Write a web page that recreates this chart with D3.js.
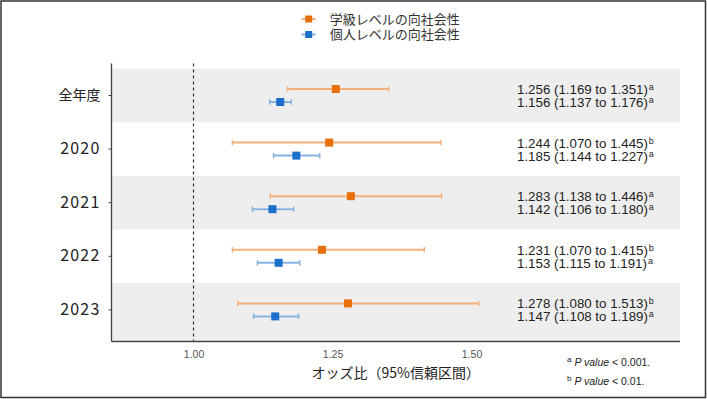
<!DOCTYPE html>
<html>
<head>
<meta charset="utf-8">
<script src="https://d3js.org/d3.v7.min.js"></script>
<style>
  body { margin: 0; background: #fff; }
  text { font-family: "Liberation Sans", Arial, sans-serif; }
  .jp { font-family: "Noto Sans CJK JP", sans-serif; }
</style>
</head>
<body>
<div id="chart"></div>
<script>

// data
var years = ["全年度", "2020", "2021", "2022", "2023"];
var classOR = [1.256, 1.244, 1.283, 1.231, 1.278];
var classLo = [1.169, 1.070, 1.138, 1.070, 1.080];
var classHi = [1.351, 1.445, 1.446, 1.415, 1.513];
var classSig = ["a", "b", "a", "b", "b"];
var indivOR = [1.156, 1.185, 1.142, 1.153, 1.147];
var indivLo = [1.137, 1.144, 1.106, 1.115, 1.108];
var indivHi = [1.176, 1.227, 1.180, 1.191, 1.189];
var indivSig = ["a", "a", "a", "a", "a"];
var xTicks = [1.00, 1.25, 1.50];
var seriesNames = ["学級レベルの向社会性", "個人レベルの向社会性"];

var W = 707, H = 399;
var orange = "#e8700a", orangeLine = "#f3b07c";
var blue = "#1c6fca", blueLine = "#88b3e3";

var svg = d3.select("#chart").append("svg")
    .attr("width", W).attr("height", H);

// outer frame
svg.append("rect")
    .attr("x", 1).attr("y", 1).attr("width", W - 2.5).attr("height", H - 2.5)
    .attr("fill", "#fff").attr("stroke", "#333").attr("stroke-width", 1.5);

// panel edges (not "top": that name is taken by window.top)
var pLeft = 111.5, pRight = 680, pTop = 63.5, pBottom = 341.5;

var x = d3.scaleLinear().domain([0.8525, 1.875]).range([pLeft, pRight]);
var y = d3.scaleBand().domain(years).range([68.7, 336.7]).padding(0);
var off = 6.5;

// alternating bands
svg.append("g").selectAll("rect")
  .data(years.filter(function(d, i) { return i % 2 == 0; }))
  .enter().append("rect")
    .attr("x", pLeft)
    .attr("y", function(d) { return y(d); })
    .attr("width", pRight - pLeft)
    .attr("height", function(d) { return d == years[years.length - 1] ? pBottom - y(d) : y.bandwidth(); })
    .attr("fill", "#eeeeee");

// reference line at OR = 1
svg.append("line")
    .attr("x1", x(1)).attr("x2", x(1))
    .attr("y1", pTop).attr("y2", pBottom)
    .attr("stroke", "#333").attr("stroke-width", 1.2)
    .attr("stroke-dasharray", "3,3");

// axes
var yAxis = svg.append("g")
    .attr("transform", "translate(" + pLeft + ",0)")
    .call(d3.axisLeft(y).tickSize(3).tickPadding(8).tickSizeOuter(0));
yAxis.select(".domain").attr("stroke", "#444").attr("stroke-width", 1.3)
    .attr("d", "M0," + pTop + "V" + pBottom);
yAxis.selectAll(".tick line").attr("stroke", "#444");
yAxis.selectAll(".tick text")
    .attr("class", "jp")
    .attr("fill", "#222")
    .style("font-size", function(d) { return d == "全年度" ? "14px" : "16px"; })
    .style("letter-spacing", function(d) { return d == "全年度" ? "0px" : "1.2px"; });

var xAxis = svg.append("g")
    .attr("transform", "translate(0," + pBottom + ")")
    .call(d3.axisBottom(x).tickValues(xTicks).tickFormat(d3.format(".2f")).tickSize(0).tickPadding(9).tickSizeOuter(0));
xAxis.select(".domain").attr("stroke", "#444").attr("stroke-width", 1.3)
    .attr("d", "M" + pLeft + ",0H" + pRight);
xAxis.selectAll(".tick text").attr("fill", "#555").style("font-size", "10.5px");

svg.append("text")
    .attr("class", "jp")
    .attr("x", (pLeft + pRight) / 2).attr("y", 378)
    .attr("text-anchor", "middle")
    .attr("fill", "#222")
    .style("font-size", "14px")
    .text("オッズ比（95%信頼区間）");

// one series = error bar + square
function drawSeries(or, lo, hi, dy, col, lineCol) {
  var g = svg.append("g");
  var rows = years.map(function(d, i) {
    return {yr: d, or: or[i], lo: lo[i], hi: hi[i]};
  });
  var cy = function(d) { return y(d.yr) + y.bandwidth() / 2 + dy; };
  g.selectAll(".bar").data(rows).enter().append("line")
    .attr("x1", function(d) { return x(d.lo); })
    .attr("x2", function(d) { return x(d.hi); })
    .attr("y1", cy).attr("y2", cy)
    .attr("stroke", lineCol).attr("stroke-width", 2);
  ["lo", "hi"].forEach(function(k) {
    g.selectAll(".cap" + k).data(rows).enter().append("line")
      .attr("x1", function(d) { return x(d[k]); })
      .attr("x2", function(d) { return x(d[k]); })
      .attr("y1", function(d) { return cy(d) - 2.7; })
      .attr("y2", function(d) { return cy(d) + 2.7; })
      .attr("stroke", lineCol).attr("stroke-width", 1.5);
  });
  g.selectAll(".pt").data(rows).enter().append("rect")
    .attr("x", function(d) { return x(d.or) - 4; })
    .attr("y", function(d) { return cy(d) - 4; })
    .attr("width", 8).attr("height", 8)
    .attr("fill", col);
}
drawSeries(classOR, classLo, classHi, -off, orange, orangeLine);
drawSeries(indivOR, indivLo, indivHi, off, blue, blueLine);

// text column
var f3 = d3.format(".3f");
function drawLabels(or, lo, hi, sig, dy) {
  var t = svg.append("g").selectAll("text")
    .data(years).enter().append("text")
      .attr("x", 517)
      .attr("y", function(d) { return y(d) + y.bandwidth() / 2 + dy + 5; })
      .attr("fill", "#222")
      .style("font-size", "13.3px");
  t.append("tspan")
    .text(function(d, i) { return f3(or[i]) + " (" + f3(lo[i]) + " to " + f3(hi[i]) + ")"; });
  t.append("tspan")
    .attr("dx", 1).attr("dy", -4)
    .style("font-size", "9px")
    .text(function(d, i) { return sig[i]; });
}
drawLabels(classOR, classLo, classHi, classSig, -off);
drawLabels(indivOR, indivLo, indivHi, indivSig, off);

// legend
var legend = svg.append("g").selectAll("g")
  .data(seriesNames).enter().append("g")
    .attr("transform", function(d, i) { return "translate(308.7," + (19 + i * 15.5) + ")"; });
legend.append("line")
    .attr("x1", -7).attr("x2", 7)
    .attr("stroke", function(d, i) { return i == 0 ? orangeLine : blueLine; })
    .attr("stroke-width", 2);
legend.append("rect")
    .attr("x", -3.5).attr("y", -3.5).attr("width", 7).attr("height", 7)
    .attr("fill", function(d, i) { return i == 0 ? orange : blue; });
legend.append("text")
    .attr("class", "jp")
    .attr("x", 21).attr("dy", "0.35em")
    .attr("fill", "#333")
    .style("font-size", "13px")
    .text(function(d) { return d; });

// footnotes
var notes = [["a", "0.001."], ["b", "0.01."]];
var fn = svg.append("g").selectAll("text")
  .data(notes).enter().append("text")
    .attr("x", 567)
    .attr("y", function(d, i) { return 366 + i * 19; })
    .attr("fill", "#222")
    .style("font-size", "10.5px");
fn.append("tspan").attr("dy", -4).style("font-size", "8px").text(function(d) { return d[0]; });
fn.append("tspan").attr("dx", 3).attr("dy", 4).style("font-style", "italic").text("P value");
fn.append("tspan").text(function(d) { return " < " + d[1]; });

</script>
</body>
</html>
